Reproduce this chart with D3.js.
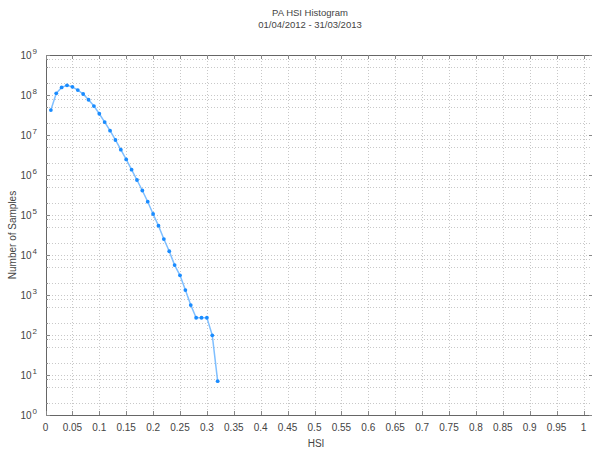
<!DOCTYPE html>
<html>
<head>
<meta charset="utf-8">
<script src="https://cdn.jsdelivr.net/npm/d3@7"></script>
<style>
  body { margin: 0; background: #fff; }
  text { font-family: "Liberation Sans", Arial, sans-serif; fill: #444; }
</style>
</head>
<body>
<script>
// HSI bin centres and sample counts
var hsi = [0.01, 0.02, 0.03, 0.04, 0.05, 0.06, 0.07, 0.08, 0.09, 0.10,
           0.11, 0.12, 0.13, 0.14, 0.15, 0.16, 0.17, 0.18, 0.19, 0.20,
           0.21, 0.22, 0.23, 0.24, 0.25, 0.26, 0.27, 0.28, 0.29, 0.30,
           0.31, 0.32];
var samples = [4.2e7, 1.1e8, 1.55e8, 1.75e8, 1.6e8, 1.33e8, 1.06e8, 7.6e7, 5.3e7, 3.4e7,
               2.1e7, 1.28e7, 7.5e6, 4.3e6, 2.45e6, 1.36e6, 7.5e5, 4.1e5, 2.15e5, 1.06e5,
               5.4e4, 2.5e4, 1.24e4, 5.6e3, 3.1e3, 1.33e3, 560, 270, 270, 270,
               98, 7];

var xTicks = [0, 0.05, 0.1, 0.15, 0.2, 0.25, 0.3, 0.35, 0.4, 0.45, 0.5,
              0.55, 0.6, 0.65, 0.7, 0.75, 0.8, 0.85, 0.9, 0.95, 1];
var yExponents = [0, 1, 2, 3, 4, 5, 6, 7, 8, 9];
var yMinor = [2, 5, 8];

var titleLines = ["PA HSI Histogram", "01/04/2012 - 31/03/2013"];

drawChart();

function drawChart(){
    var width = 592, height = 452;

    var svg = d3.select("body").append("svg")
        .attr("width", width)
        .attr("height", height);

    var x = d3.scaleLinear().domain([0, 1]).range([45.5, 583.5]);
    var y = d3.scaleLog().domain([1, 1e9]).range([415, 55]);

    var pLeft = Math.round(x(0)), pRight = x(1.016),
        pTop = y(1e9), pBottom = y(1);

    //minor y values (2,5,8 x 10^k)
    var minorVals = [];
    yExponents.slice(0, -1).forEach(function(e){
        yMinor.forEach(function(m){ minorVals.push(m * Math.pow(10, e)); });
    });

    var grid = svg.append("g").attr("class", "grid")
        .attr("stroke", "#c8c8c8")
        .attr("stroke-dasharray", "1,2")
        .attr("shape-rendering", "crispEdges");

    grid.selectAll(".vgrid")
        .data(xTicks.slice(1))
        .enter().append("line")
        .attr("x1", function(d){ return Math.round(x(d)) + 0.5; })
        .attr("x2", function(d){ return Math.round(x(d)) + 0.5; })
        .attr("y1", pTop).attr("y2", pBottom);

    grid.selectAll(".hgrid")
        .data(yExponents.slice(1, -1).map(function(e){ return Math.pow(10, e); }).concat(minorVals))
        .enter().append("line")
        .attr("x1", pLeft).attr("x2", pRight)
        .attr("y1", function(d){ return Math.round(y(d)) + 0.5; })
        .attr("y2", function(d){ return Math.round(y(d)) + 0.5; });

    //frame
    var frame = svg.append("g")
        .attr("stroke", "#666")
        .attr("shape-rendering", "crispEdges");
    frame.append("line").attr("x1", pLeft).attr("x2", pRight).attr("y1", pTop + 0.5).attr("y2", pTop + 0.5);
    frame.append("line").attr("x1", pLeft).attr("x2", pRight).attr("y1", pBottom + 0.5).attr("y2", pBottom + 0.5);
    frame.append("line").attr("x1", pLeft + 0.5).attr("x2", pLeft + 0.5).attr("y1", pTop).attr("y2", pBottom + 1);

    //tick marks
    var ticks = svg.append("g")
        .attr("stroke", "#888")
        .attr("shape-rendering", "crispEdges");
    xTicks.forEach(function(d){
        var px = Math.round(x(d)) + 0.5;
        ticks.append("line").attr("x1", px).attr("x2", px).attr("y1", pBottom).attr("y2", pBottom - 4);
        ticks.append("line").attr("x1", px).attr("x2", px).attr("y1", pTop).attr("y2", pTop + 4);
    });
    yExponents.forEach(function(e){
        var py = Math.round(y(Math.pow(10, e))) + 0.5;
        ticks.append("line").attr("x1", pLeft).attr("x2", pLeft + 4).attr("y1", py).attr("y2", py);
        ticks.append("line").attr("x1", width - 3).attr("x2", width).attr("y1", py).attr("y2", py);
    });
    minorVals.forEach(function(v){
        var py = Math.round(y(v)) + 0.5;
        ticks.append("line").attr("x1", pLeft).attr("x2", pLeft + 2).attr("y1", py).attr("y2", py);
    });

    //x tick labels
    svg.append("g").selectAll("text")
        .data(xTicks)
        .enter().append("text")
        .attr("x", function(d){ return x(d); })
        .attr("y", 431)
        .attr("text-anchor", "middle")
        .attr("font-size", 10)
        .text(function(d){ return d3.format("")(d); });

    //y tick labels: 10^k
    var yLab = svg.append("g").selectAll("text")
        .data(yExponents)
        .enter().append("text")
        .attr("x", 37)
        .attr("y", function(e){ return y(Math.pow(10, e)) + 4; })
        .attr("text-anchor", "end")
        .attr("font-size", 10);
    yLab.append("tspan").text("10");
    yLab.append("tspan")
        .attr("dx", 1)
        .attr("dy", -5)
        .attr("font-size", 8)
        .text(function(e){ return e; });

    //series line and markers
    var line = d3.line()
        .x(function(d, i){ return x(hsi[i]); })
        .y(function(d){ return y(d); });

    svg.append("path")
        .datum(samples)
        .attr("fill", "none")
        .attr("stroke", "#7fbfff")
        .attr("stroke-width", 1.5)
        .attr("d", line);

    svg.selectAll(".pt")
        .data(samples)
        .enter().append("circle")
        .attr("class", "pt")
        .attr("cx", function(d, i){ return x(hsi[i]); })
        .attr("cy", function(d){ return y(d); })
        .attr("r", 1.9)
        .attr("fill", "#1a8cff");

    //titles
    svg.append("g").selectAll("text")
        .data(titleLines)
        .enter().append("text")
        .attr("x", 310)
        .attr("y", function(d, i){ return 16 + i * 12; })
        .attr("text-anchor", "middle")
        .attr("font-size", 9.5)
        .text(function(d){ return d; });

    svg.append("text")
        .attr("x", 316)
        .attr("y", 447)
        .attr("text-anchor", "middle")
        .attr("font-size", 10)
        .text("HSI");

    svg.append("text")
        .attr("transform", "translate(16,235) rotate(-90)")
        .attr("text-anchor", "middle")
        .attr("font-size", 10)
        .text("Number of Samples");
}
</script>
</body>
</html>
